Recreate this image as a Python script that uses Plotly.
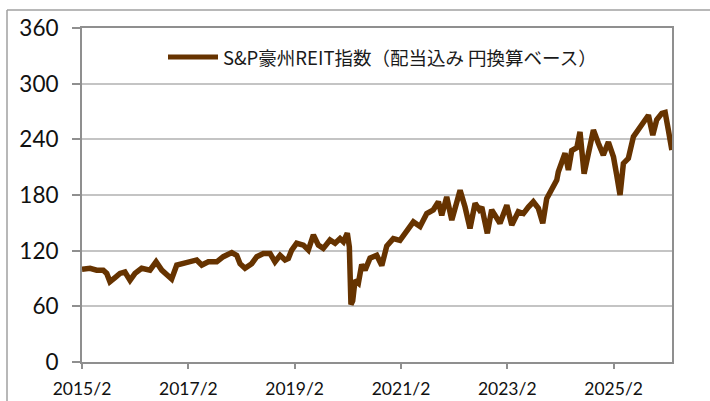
import plotly.graph_objects as go

# ---- data ----
dates = [
    "2015-02-27", "2015-04-23", "2015-06-08", "2015-07-23", "2015-08-16", "2015-09-07",
    "2015-10-12", "2015-11-15", "2015-12-19", "2016-01-23", "2016-02-26", "2016-04-12",
    "2016-06-08", "2016-07-20", "2016-08-28", "2016-10-01", "2016-11-04", "2016-12-09",
    "2017-01-23", "2017-03-10", "2017-04-25", "2017-05-30", "2017-07-14", "2017-09-10",
    "2017-10-25", "2017-12-22", "2018-01-25", "2018-02-17", "2018-03-23", "2018-05-08",
    "2018-06-12", "2018-07-27", "2018-09-11", "2018-10-15", "2018-11-19", "2018-12-23",
    "2019-01-15", "2019-02-07", "2019-03-13", "2019-04-28", "2019-06-01", "2019-07-06",
    "2019-08-09", "2019-09-12", "2019-10-28", "2019-12-02", "2020-01-05", "2020-01-28",
    "2020-02-24", "2020-03-09", "2020-03-20", "2020-04-01", "2020-04-17", "2020-05-10",
    "2020-06-02", "2020-06-25", "2020-07-29", "2020-09-13", "2020-10-18", "2020-11-21",
    "2021-01-05", "2021-02-20", "2021-04-07", "2021-05-23", "2021-07-08", "2021-08-23",
    "2021-10-07", "2021-11-11", "2021-12-04", "2022-01-07", "2022-02-11", "2022-03-05",
    "2022-04-09", "2022-05-13", "2022-06-16", "2022-07-21", "2022-08-19", "2022-09-05",
    "2022-10-13", "2022-11-12", "2022-12-17", "2023-01-08", "2023-02-24", "2023-03-30",
    "2023-05-14", "2023-06-18", "2023-07-22", "2023-08-25", "2023-09-29", "2023-10-29",
    "2023-11-25", "2023-12-30", "2024-02-02", "2024-02-13", "2024-03-30", "2024-04-22",
    "2024-05-15", "2024-06-19", "2024-07-11", "2024-08-08", "2024-09-06", "2024-10-11",
    "2024-11-14", "2024-12-18", "2025-01-22", "2025-02-26", "2025-03-20", "2025-04-12",
    "2025-05-05", "2025-06-08", "2025-07-13", "2025-09-08", "2025-10-24", "2025-11-23",
    "2025-12-20", "2026-01-24", "2026-02-16", "2026-03-10", "2026-04-03",
]
index_values = [
    100, 101, 99, 99, 95.5, 86.5,
    91, 95.5, 97, 88, 95.5, 101,
    99, 108, 99, 93.8, 89.4, 104.5,
    106, 108, 110, 104.5, 108, 108,
    113.5, 118, 115, 106, 101, 106,
    113.5, 117, 117, 108, 115, 110,
    111.7, 120.7, 128, 126, 120.7, 137,
    126, 122.5, 131.5, 128, 133, 129.6,
    139, 124, 62, 66, 88, 85,
    105, 99, 112, 115, 104, 125,
    133, 131, 140, 151, 146, 160,
    164, 172.7, 158, 178, 153, 167,
    185, 167, 144, 171, 164, 167,
    138.7, 164, 155, 149.5, 169, 147.6,
    162, 160, 167, 172.7, 165.6, 149.5,
    176, 185, 196, 205, 225, 207,
    228, 231, 248, 203, 223, 250,
    235.7, 223, 237, 221, 201.5, 180,
    214, 219.5, 243, 257, 266, 244.6,
    261, 268, 269, 250, 228.5,
]
series_name = "S&P豪州REIT指数（配当込み 円換算ベース）"

x_tick_dates = ["2015-02-27", "2017-02-27", "2019-02-27", "2021-02-27", "2023-02-27", "2025-02-27"]
x_tick_labels = ["2015/2", "2017/2", "2019/2", "2021/2", "2023/2", "2025/2"]
y_ticks = [0, 60, 120, 180, 240, 300, 360]

LINE_COLOR = "#663300"
AXIS_COLOR = "#8f8f8f"
GRID_COLOR = "#c4c4c4"

fig = go.Figure()
fig.add_trace(go.Scatter(
    x=dates, y=index_values, mode="lines", name=series_name,
    line=dict(color=LINE_COLOR, width=5.5), showlegend=False,
))

# plot area in pixels: left 82, right 672, top 28, bottom 362
L, R, T, B = 82, 672, 28, 362
W, H = R - L, B - T
px = lambda x: (x - L) / W
py = lambda y: (B - y) / H

shapes = [
    # outer chart border (left and top visible)
    dict(type="line", xref="paper", yref="paper", x0=px(7), x1=px(720), y0=py(10), y1=py(10),
         line=dict(color="#a0a0a0", width=1.5)),
    dict(type="line", xref="paper", yref="paper", x0=px(7), x1=px(7), y0=py(10), y1=py(410),
         line=dict(color="#a0a0a0", width=1.5)),
    # legend sample line
    dict(type="line", xref="paper", yref="paper", x0=px(168), x1=px(218), y0=py(57), y1=py(57),
         line=dict(color=LINE_COLOR, width=5)),
]
annotations = [
    dict(xref="paper", yref="paper", x=px(221), y=py(57), xanchor="left", yanchor="middle",
         text=series_name, showarrow=False,
         font=dict(family="Noto Sans CJK JP", size=18.5, color="#1a1a1a")),
]

fig.update_layout(
    width=710, height=401,
    margin=dict(l=L, r=710 - R, t=T, b=401 - B, autoexpand=False),
    paper_bgcolor="white", plot_bgcolor="white",
    shapes=shapes, annotations=annotations,
    showlegend=False,
)
fig.update_xaxes(
    type="date", range=["2015-02-27", "2026-04-04"],
    tickvals=x_tick_dates, ticktext=x_tick_labels,
    ticks="outside", ticklen=5, tickcolor=AXIS_COLOR, tickwidth=1.5,
    showline=True, linecolor=AXIS_COLOR, linewidth=2, mirror=True,
    showgrid=False, zeroline=False,
    tickfont=dict(family="Lato", size=17.5, color="#111"),
    ticklabelstandoff=5,
)
fig.update_yaxes(
    range=[0, 360], tickvals=y_ticks,
    ticks="outside", ticklen=8, tickcolor=AXIS_COLOR, tickwidth=1.5,
    showline=True, linecolor=AXIS_COLOR, linewidth=2, mirror=True,
    showgrid=True, gridcolor=GRID_COLOR, gridwidth=1.5, zeroline=False,
    tickfont=dict(family="Lato", size=22.5, color="#111"),
    ticklabelstandoff=9,
)

fig.write_html(
    "out.html",
    config={"displayModeBar": False},
    post_script="document.body.style.margin='0';document.body.style.padding='0';",
)
